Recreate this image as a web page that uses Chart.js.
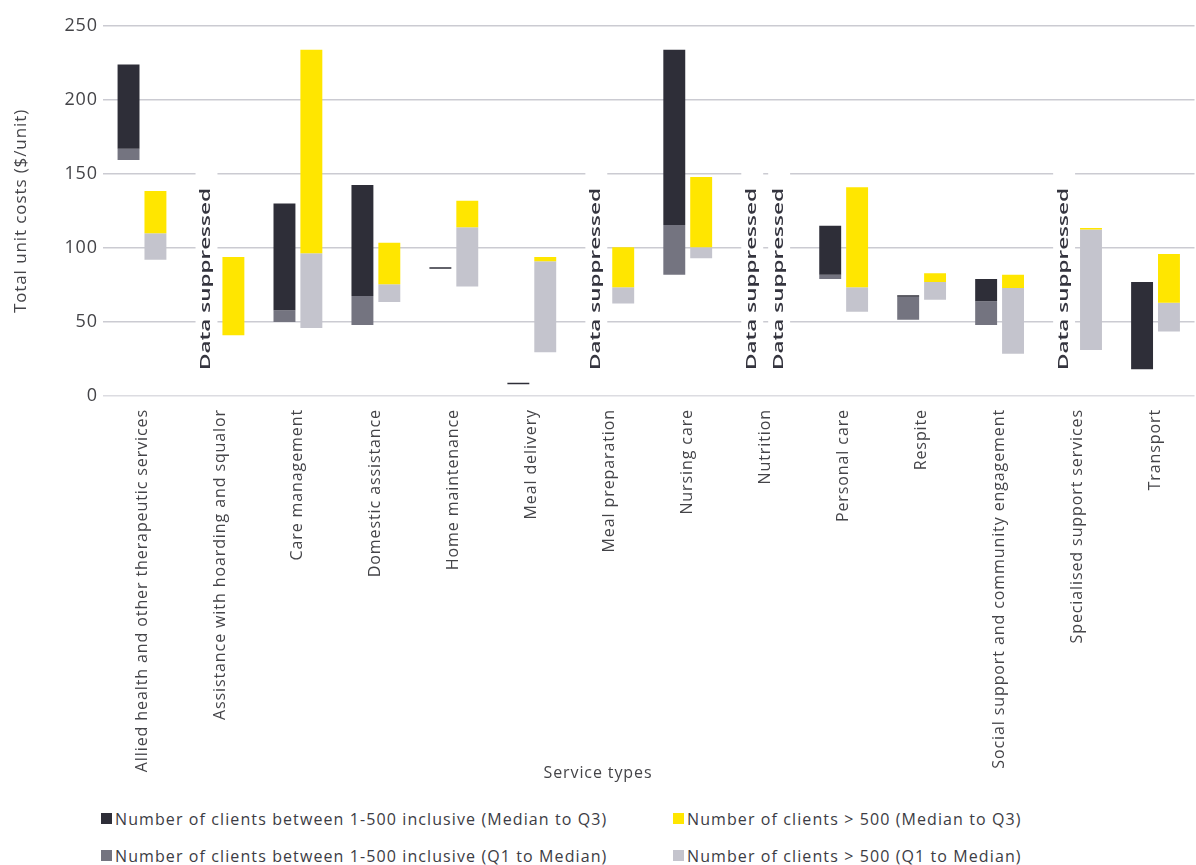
<!DOCTYPE html>
<html>
<head>
<meta charset="utf-8">
<script src="https://cdn.jsdelivr.net/npm/chart.js@4/dist/chart.umd.min.js"></script>
<style>
    body { margin: 0; background: #ffffff; }
    #wrap { position: relative; width: 1196px; height: 865px; }
    #chartBox { position: absolute; left: 0; top: 0; width: 1196px; height: 782px; }
    #xTitle {
        position: absolute; left: 0; width: 1196px; top: 761px; text-align: center;
        font-family: 'Open Sans', sans-serif; font-size: 16px; letter-spacing: 0.9px; color: #444448;
    }
    #legend {
        position: absolute; left: 101px; top: 800px;
        display: grid; grid-template-columns: 572px auto; grid-auto-rows: 37px;
        font-family: 'Open Sans', sans-serif; font-size: 16px; letter-spacing: 1.1px; color: #3c3c44;
    }
    .item { display: flex; align-items: center; white-space: nowrap; }
    .swatch { width: 11px; height: 11px; margin-right: 3px; }
</style>
</head>
<body>
<div id="wrap">
    <div id="chartBox"><canvas id="unitCostChart"></canvas></div>
    <div id="xTitle">Service types</div>
    <div id="legend"></div>
</div>
<script>
const serviceTypes = [
    'Allied health and other therapeutic services',
    'Assistance with hoarding and squalor',
    'Care management',
    'Domestic assistance',
    'Home maintenance',
    'Meal delivery',
    'Meal preparation',
    'Nursing care',
    'Nutrition',
    'Personal care',
    'Respite',
    'Social support and community engagement',
    'Specialised support services',
    'Transport'
];

// providers with 1-500 clients inclusive ($/unit), null = suppressed
const smallQ1 = [159.5, null, 50, 48, 86, 8, null, 82, null, 79, 51.5, 48, null, 18];
const smallMedian = [167, null, 58, 67.5, 86, 8, null, 115.5, null, 82, 67, 64, null, 18];
const smallQ3 = [224, null, 130, 142.5, 86, 8, null, 234, null, 115, 68, 79, null, 77];

// providers with more than 500 clients ($/unit)
const largeQ1 = [92, 41, 46, 63.5, 74, 29.5, 62.5, 93, null, 57, 65, 28.5, 31, 43.5];
const largeMedian = [110, 41, 96.5, 75.5, 114, 91, 73.5, 100.5, null, 73.5, 77, 73, 112.5, 63];
const largeQ3 = [138.5, 94, 234, 103.5, 132, 94, 100.5, 148, null, 141, 83, 82, 113.5, 96];

const yTicks = [0, 50, 100, 150, 200, 250];

const SUPPRESSED_TEXT = 'Data suppressed';
const SUPPRESSED_CENTER = 79; // y value the rotated note is centred on

const fontFamily = "'Open Sans', sans-serif";
const textColor = '#444448';

function floating(lo, hi) {
    return lo.map((v, i) => (v === null ? null : [v, hi[i]]));
}

// wider tracking for the axis text
const tracking = {
    id: 'tracking',
    beforeDraw(chart) { chart.ctx.letterSpacing = '0.9px'; },
    afterDraw(chart) { chart.ctx.letterSpacing = '0px'; }
};

// writes "Data suppressed" in the empty slot of every missing group
const suppressedNotes = {
    id: 'suppressedNotes',
    afterDatasetsDraw(chart) {
        const ctx = chart.ctx;
        const yScale = chart.scales.y;
        const cy = yScale.getPixelForValue(SUPPRESSED_CENTER);
        const groups = [[0, smallQ3], [1, largeQ3]];
        ctx.save();
        ctx.letterSpacing = '0px';
        ctx.font = "600 14px 'Open Sans'";
        const textW = ctx.measureText(SUPPRESSED_TEXT).width;
        const stretch = 182 / textW;
        groups.forEach(([dsIndex, values]) => {
            const meta = chart.getDatasetMeta(dsIndex);
            values.forEach((v, i) => {
                if (v !== null) return;
                const bar = meta.data[i];
                const w = bar.width;
                ctx.fillStyle = '#ffffff';
                ctx.fillRect(bar.x - w / 2, cy - 108, w, 216);
                ctx.save();
                ctx.translate(bar.x, cy);
                ctx.rotate(-Math.PI / 2);
                ctx.scale(stretch, 1);
                ctx.fillStyle = '#34343e';
                ctx.textAlign = 'center';
                ctx.textBaseline = 'middle';
                ctx.fillText(SUPPRESSED_TEXT, 0, 0);
                ctx.restore();
            });
        });
        ctx.restore();
    }
};

const chart = new Chart(document.getElementById('unitCostChart'), {
    type: 'bar',
    data: {
        labels: serviceTypes,
        datasets: [
            {
                label: 'Number of clients between 1-500 inclusive (Median to Q3)',
                data: floating(smallMedian, smallQ3),
                backgroundColor: '#2e2e38',
                stack: 'small',
                minBarLength: 1.5
            },
            {
                label: 'Number of clients > 500 (Median to Q3)',
                data: floating(largeMedian, largeQ3),
                backgroundColor: '#ffe600',
                stack: 'large'
            },
            {
                label: 'Number of clients between 1-500 inclusive (Q1 to Median)',
                data: floating(smallQ1, smallMedian),
                backgroundColor: '#747480',
                stack: 'small'
            },
            {
                label: 'Number of clients > 500 (Q1 to Median)',
                data: floating(largeQ1, largeMedian),
                backgroundColor: '#c4c4cd',
                stack: 'large'
            }
        ]
    },
    options: {
        responsive: true,
        maintainAspectRatio: false,
        animation: false,
        categoryPercentage: 0.69,
        barPercentage: 0.815,
        layout: { padding: { top: 26, right: 1.5, left: 0, bottom: 0 } },
        plugins: {
            legend: { display: false },
            tooltip: { enabled: false }
        },
        scales: {
            x: {
                stacked: true,
                grid: { display: false },
                border: { display: false },
                ticks: {
                    autoSkip: false,
                    minRotation: 90,
                    maxRotation: 90,
                    padding: 5,
                    color: textColor,
                    font: { family: fontFamily, size: 16 }
                },
                afterFit(scale) { scale.height = 386; }
            },
            y: {
                stacked: false,
                min: 0,
                max: 250,
                afterBuildTicks(scale) { scale.ticks = yTicks.map(v => ({ value: v })); },
                grid: {
                    drawTicks: false,
                    lineWidth: 1.5,
                    color: (c) => (c.tick && c.tick.value === 0 ? '#dcdce1' : '#cbcbd2')
                },
                border: { display: false },
                ticks: {
                    padding: 5,
                    color: textColor,
                    font: { family: fontFamily, size: 18 }
                },
                title: {
                    display: true,
                    text: 'Total unit costs ($/unit)',
                    color: textColor,
                    padding: { top: 11, bottom: 0 },
                    font: { family: fontFamily, size: 17 }
                },
                afterFit(scale) { scale.width = 103; }
            }
        }
    },
    plugins: [tracking, suppressedNotes]
});

// two-column legend under the chart
const legendEl = document.getElementById('legend');
chart.data.datasets.forEach(ds => {
    const item = document.createElement('div');
    item.className = 'item';
    const swatch = document.createElement('span');
    swatch.className = 'swatch';
    swatch.style.background = ds.backgroundColor;
    const label = document.createElement('span');
    label.textContent = ds.label;
    item.appendChild(swatch);
    item.appendChild(label);
    legendEl.appendChild(item);
});
</script>
</body>
</html>
